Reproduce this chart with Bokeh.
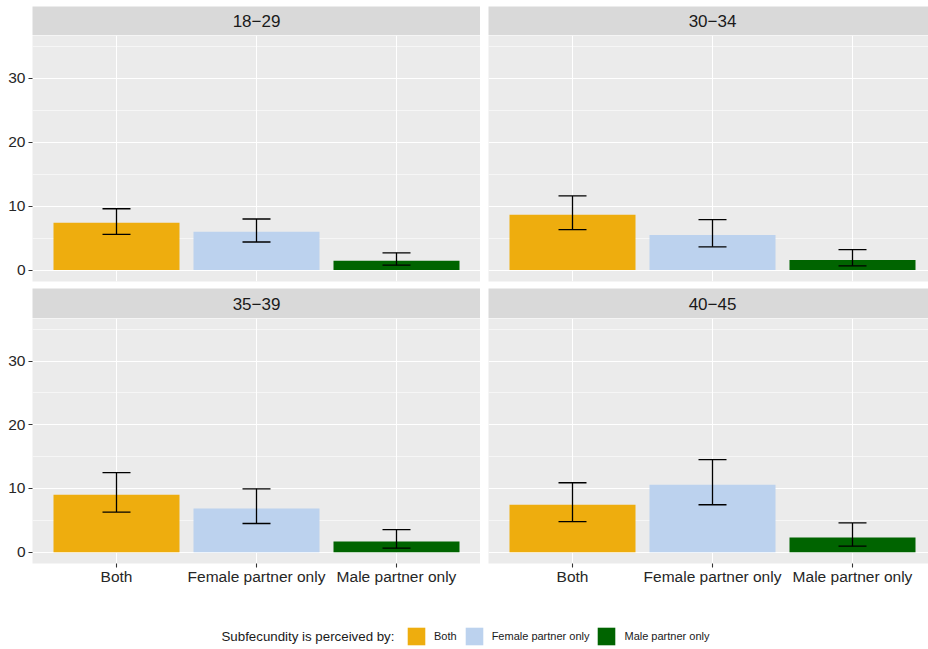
from bokeh.plotting import figure
from bokeh.layouts import column, row
from bokeh.models import (ColumnDataSource, Range1d, FixedTicker, Whisker, TeeHead,
                          Label, Legend, LegendItem)
from bokeh.embed import file_html
from bokeh.resources import INLINE

# ---------------- data ----------------
categories = ["Both", "Female partner only", "Male partner only"]
colors = ["#EEAD0E", "#BCD2EE", "#006400"]
age_groups = ["18\u221229", "30\u221234", "35\u221239", "40\u221245"]

est_18_29 = [7.4, 6.0, 1.45]
lo_18_29 = [5.6, 4.4, 0.78]
hi_18_29 = [9.6, 8.0, 2.7]

est_30_34 = [8.65, 5.5, 1.6]
lo_30_34 = [6.35, 3.65, 0.67]
hi_30_34 = [11.6, 7.9, 3.2]

est_35_39 = [9.0, 6.85, 1.67]
lo_35_39 = [6.3, 4.5, 0.63]
hi_35_39 = [12.5, 9.95, 3.55]

est_40_45 = [7.45, 10.6, 2.3]
lo_40_45 = [4.8, 7.45, 0.94]
hi_40_45 = [10.9, 14.55, 4.6]

y_major = [0, 10, 20, 30]
y_minor = [5, 15, 25, 35]
legend_title = "Subfecundity is perceived by:"

FONT = "Liberation Sans"
PANEL_BG = "#EBEBEB"
STRIP_BG = "#D9D9D9"

X_POS = list(range(1, len(categories) + 1))
PX_PER_UNIT = 140.0
LEFT_W, RIGHT_W = 480, 448
LEFT_B, RIGHT_B = 32, 8


def x_range_for(is_left):
    frame_w = (LEFT_W - LEFT_B) if is_left else (RIGHT_W - RIGHT_B)
    return Range1d(0.4, 0.4 + frame_w / PX_PER_UNIT)


def make_strip(label, is_left, h, top_gap):
    s = figure(width=LEFT_W if is_left else RIGHT_W, height=h + top_gap,
               x_range=x_range_for(is_left), y_range=Range1d(0, 1),
               x_axis_location=None, y_axis_location=None,
               min_border_left=LEFT_B if is_left else RIGHT_B, min_border_right=0,
               min_border_top=top_gap, min_border_bottom=0,
               output_backend="svg", toolbar_location=None)
    s.background_fill_color = STRIP_BG
    s.border_fill_color = "white"
    s.outline_line_color = None
    s.xgrid.visible = False
    s.ygrid.visible = False
    mid = (1 + len(categories)) / 2.0
    s.add_layout(Label(x=mid, y=0.5, text=label, text_align="center",
                       text_baseline="middle", text_font_size="17px",
                       text_color="#1A1A1A", text_font=FONT))
    return s


def make_panel(est, lo, hi, is_left, is_bottom):
    src = ColumnDataSource(dict(x=X_POS, est=est, lo=lo, hi=hi, color=colors,
                                cat=categories))
    frame_h = 245 if is_bottom else 246
    extra = 30 if is_bottom else 7
    p = figure(width=LEFT_W if is_left else RIGHT_W, height=frame_h + extra,
               x_range=x_range_for(is_left), y_range=Range1d(-1.78, 36.7),
               x_axis_location="below" if is_bottom else None,
               y_axis_location="left" if is_left else None,
               min_border_left=LEFT_B if is_left else RIGHT_B, min_border_right=0,
               min_border_top=0, min_border_bottom=extra,
               output_backend="svg", toolbar_location=None)
    p.background_fill_color = PANEL_BG
    p.border_fill_color = "white"
    p.outline_line_color = None

    p.xgrid.ticker = FixedTicker(ticks=X_POS)
    p.xgrid.grid_line_color = "white"
    p.xgrid.grid_line_width = 1.1
    p.ygrid.ticker = FixedTicker(ticks=y_major, minor_ticks=y_minor)
    p.ygrid.grid_line_color = "white"
    p.ygrid.grid_line_width = 1.1
    p.ygrid.minor_grid_line_color = "white"
    p.ygrid.minor_grid_line_width = 0.55

    p.vbar(x="x", top="est", bottom=0, width=0.9, fill_color="color",
           line_color=None, source=src)
    w = Whisker(source=src, base="x", upper="hi", lower="lo", dimension="height",
                line_color="black", line_width=1.3, level="annotation",
                upper_head=TeeHead(size=28, line_color="black", line_width=1.3),
                lower_head=TeeHead(size=28, line_color="black", line_width=1.3))
    p.add_layout(w)

    if is_left:
        ax = p.yaxis[0]
        ax.ticker = FixedTicker(ticks=y_major, minor_ticks=y_minor)
        ax.axis_line_color = None
        ax.major_tick_line_color = "#333333"
        ax.major_tick_line_width = 1.1
        ax.major_tick_out = 4
        ax.major_tick_in = 0
        ax.minor_tick_line_color = None
        ax.major_label_standoff = 3
        ax.major_label_text_font = FONT
        ax.major_label_text_font_size = "15.5px"
        ax.major_label_text_color = "#262626"
    if is_bottom:
        ax = p.xaxis[0]
        ax.ticker = FixedTicker(ticks=X_POS)
        ax.major_label_overrides = {xp: c for xp, c in zip(X_POS, categories)}
        ax.axis_line_color = None
        ax.major_tick_line_color = "#333333"
        ax.major_tick_line_width = 1.1
        ax.major_tick_out = 4
        ax.major_tick_in = 0
        ax.minor_tick_line_color = None
        ax.major_label_standoff = 0
        ax.major_label_text_font = FONT
        ax.major_label_text_font_size = "15.5px"
        ax.major_label_text_color = "#262626"
    return p


strip_tl = make_strip(age_groups[0], True, 29, 6)
panel_tl = make_panel(est_18_29, lo_18_29, hi_18_29, True, False)
strip_tr = make_strip(age_groups[1], False, 29, 6)
panel_tr = make_panel(est_30_34, lo_30_34, hi_30_34, False, False)
strip_bl = make_strip(age_groups[2], True, 30, 0)
panel_bl = make_panel(est_35_39, lo_35_39, hi_35_39, True, True)
strip_br = make_strip(age_groups[3], False, 30, 0)
panel_br = make_panel(est_40_45, lo_40_45, hi_40_45, False, True)

# ---------------- legend ----------------
LW, LH = LEFT_W + RIGHT_W, 56
lf = figure(width=LW, height=LH, x_range=Range1d(0, LW), y_range=Range1d(0, LH),
            x_axis_location=None, y_axis_location=None, min_border=0,
            output_backend="svg", toolbar_location=None)
lf.outline_line_color = None
lf.xgrid.visible = False
lf.ygrid.visible = False
lf.background_fill_color = "white"
lf.border_fill_color = "white"
items = []
for xp, cat, col in zip(X_POS, categories, colors):
    # zero-height key renderer: draws nothing in the plot, only feeds the legend
    r = lf.vbar(x=[xp], top=[0], bottom=[0], width=0.5, fill_color=col,
                line_color=None)
    items.append(LegendItem(label=cat, renderers=[r]))
leg = Legend(items=items, orientation="horizontal", location=(405, 2),
             padding=0, margin=0, spacing=6, label_standoff=7,
             glyph_width=22, glyph_height=22, label_height=22,
             label_text_font=FONT, label_text_font_size="11px",
             label_text_color="#1A1A1A",
             border_line_color=None, background_fill_alpha=0)
lf.add_layout(leg, "center")
lf.add_layout(Label(x=221, y=13, text=legend_title, text_baseline="middle",
                    text_font=FONT, text_font_size="13.3px", text_color="#1A1A1A"))

left_col = column(strip_tl, panel_tl, strip_bl, panel_bl, spacing=0)
right_col = column(strip_tr, panel_tr, strip_br, panel_br, spacing=0)
root = column(row(left_col, right_col, spacing=0), lf, spacing=0)

open("out.html", "w").write(file_html(root, INLINE))
